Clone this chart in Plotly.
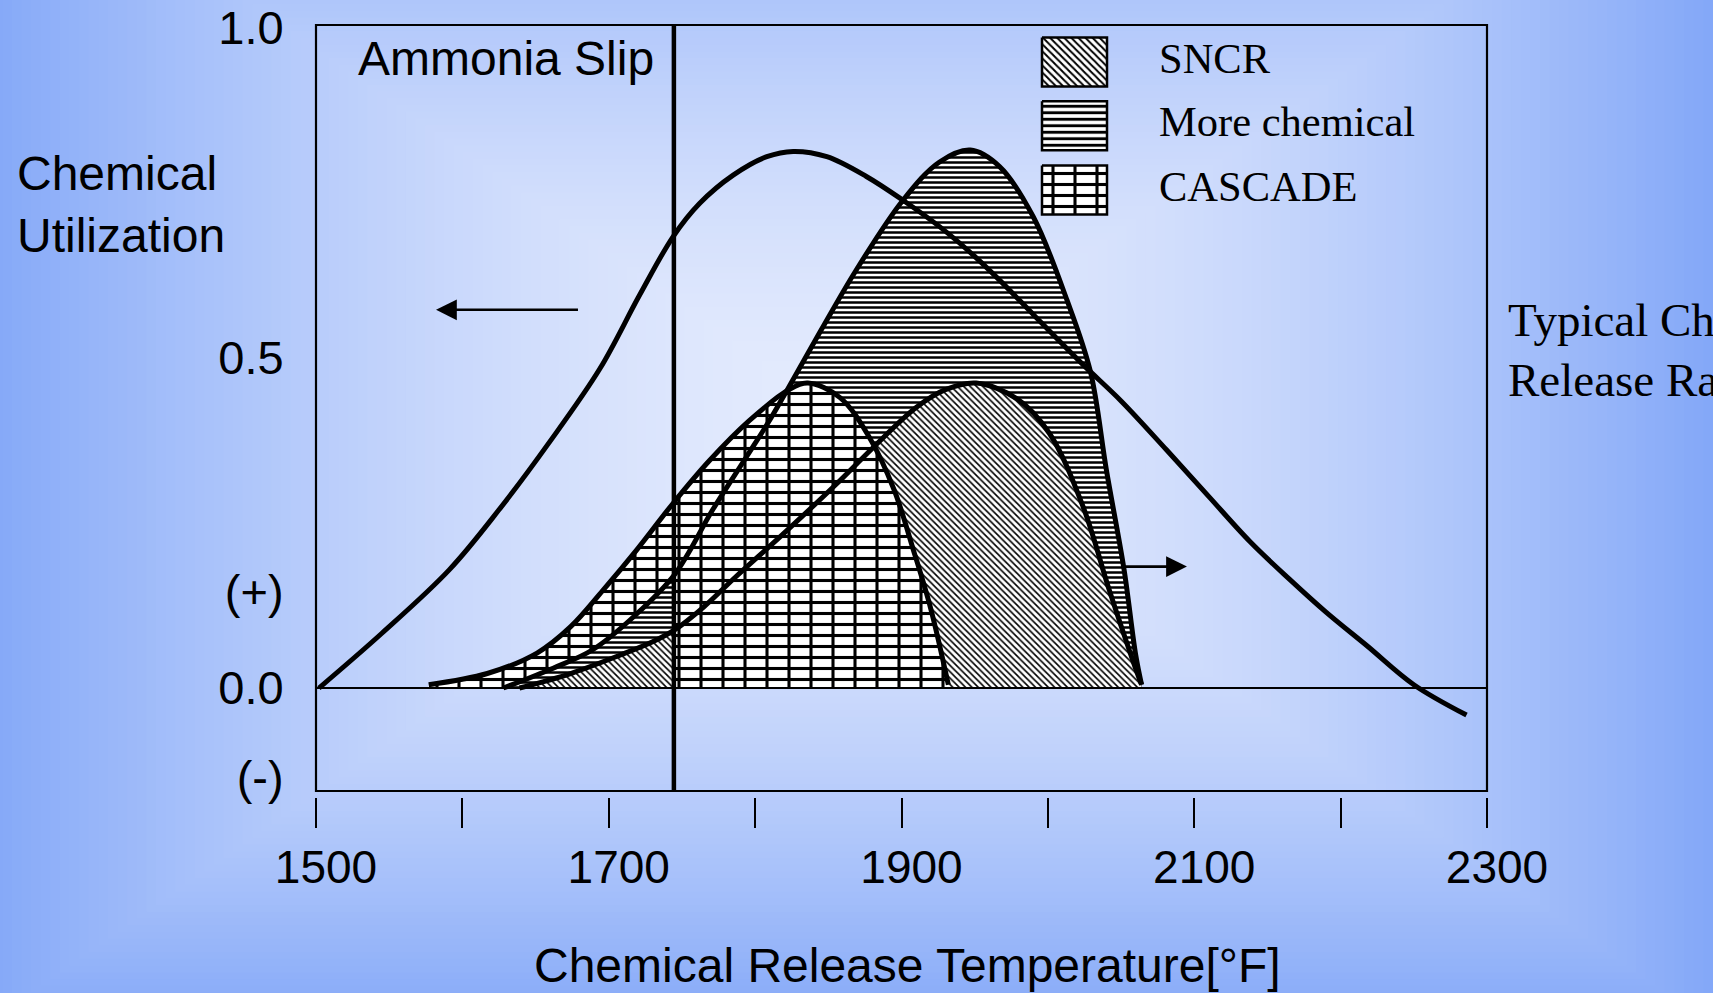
import plotly.graph_objects as go

# ---------------- data ----------------
T_MIN, T_MAX = 1500, 2300
U_MIN, U_MAX = -0.156, 1.0045
AMMONIA_SLIP_T = 1744.5

x_tick_vals = [1500, 1600, 1700, 1800, 1900, 2000, 2100, 2200, 2300]
x_tick_text = ["1500", "", "1700", "", "1900", "", "2100", "", "2300"]
y_tick_vals = [1.0, 0.5, 0.146, 0.0, -0.135]
y_tick_text = ["1.0", "0.5", "(+)", "0.0", "(-)"]

util_T = [1502, 1545, 1591, 1625, 1659, 1694, 1721, 1744, 1762, 1785, 1808, 1826, 1849,
          1876, 1901, 1926, 1949, 1967, 1990, 2024, 2050, 2081, 2110, 2138, 2165, 2190, 2218, 2250, 2286]
util_U = [0.000, 0.083, 0.179, 0.270, 0.371, 0.484, 0.595, 0.684, 0.734, 0.777, 0.805, 0.813, 0.805,
          0.775, 0.739, 0.699, 0.656, 0.618, 0.566, 0.490, 0.435, 0.361, 0.290, 0.222, 0.165, 0.115, 0.064, 0.005, -0.041]

cascade_T = [1577, 1617, 1651, 1674, 1696, 1719, 1744, 1769, 1796, 1823, 1836, 1858, 1878, 1895, 1908, 1920, 1932]
cascade_U = [0.005, 0.022, 0.053, 0.093, 0.148, 0.209, 0.280, 0.345, 0.405, 0.452, 0.462, 0.440, 0.380, 0.300, 0.210, 0.120, 0.005]

morechem_T = [1628, 1662, 1689, 1717, 1745, 1771, 1794, 1810, 1822, 1845, 1869, 1901, 1926, 1947, 1967,
              1990, 2013, 2029, 2040, 2052, 2060, 2064]
morechem_U = [0.000, 0.030, 0.058, 0.108, 0.172, 0.270, 0.350, 0.406, 0.452, 0.542, 0.633, 0.739, 0.797, 0.815, 0.790,
              0.714, 0.588, 0.480, 0.330, 0.180, 0.050, 0.005]

sncr_T = [1639, 1674, 1708, 1730, 1745, 1765, 1787, 1817, 1855, 1880, 1910, 1930, 1951, 1979,
          2001, 2024, 2042, 2058, 2064]
sncr_U = [0.000, 0.022, 0.050, 0.070, 0.088, 0.123, 0.169, 0.229, 0.308, 0.363, 0.425, 0.452, 0.462, 0.438,
          0.386, 0.275, 0.148, 0.042, 0.005]

legend_labels = ["SNCR", "More chemical", "CASCADE"]
left_arrow_T = (1680, 1582)   # tail, tip
left_arrow_U = 0.573
right_arrow_T = (2052, 2095)
right_arrow_U = 0.184

# ---------------- layout constants (pixels) ----------------
FIG_W, FIG_H = 1733, 993
M_L, M_R, M_T, M_B = 316, 20, 25, 166
PW = FIG_W - M_L - M_R
PH = FIG_H - M_T - M_B
PLOT_RIGHT_PX = 1487
BOX_BOTTOM_PX = 791
TICK_TOP_PX = 797
BG_RIGHT_PX = 1713


def pxx(px):
    return (px - M_L) / PW


def pxy(py):
    return (FIG_H - M_B - py) / PH


DX = pxx(PLOT_RIGHT_PX)
DY0 = pxy(BOX_BOTTOM_PX)
X_POS = pxy(TICK_TOP_PX)
DX_SPLIT = DX * (AMMONIA_SLIP_T - T_MIN) / (T_MAX - T_MIN)

SANS = "Liberation Sans, Arial, sans-serif"
SERIF = "Liberation Serif, Times New Roman, serif"
LW = 5
SMOOTH = 1.0

pat_sncr = dict(shape="\\", fgcolor="black", bgcolor="white", size=4.5, solidity=0.36)
pat_more = dict(shape="-", fgcolor="black", bgcolor="white", size=5, solidity=0.5)
pat_brick_h = dict(shape="-", fgcolor="black", bgcolor="white", size=11, solidity=0.28)
pat_brick_v = dict(shape="|", fgcolor="black", bgcolor="rgba(0,0,0,0)", size=22, solidity=0.14)

fig = go.Figure()


def fill_trace(T, U, pattern, xa, ya):
    return go.Scatter(x=T, y=U, mode="none", fill="tozeroy", fillcolor="rgba(0,0,0,0)",
                      fillpattern=pattern, line=dict(shape="spline", smoothing=SMOOTH),
                      xaxis=xa, yaxis=ya, showlegend=False, hoverinfo="skip")


def brick_traces(T, U, xa, ya):
    return [fill_trace(T, U, pat_brick_h, xa, ya), fill_trace(T, U, pat_brick_v, xa, ya)]


# right of ammonia slip: more chemical < SNCR < CASCADE
fig.add_trace(fill_trace(morechem_T, morechem_U, pat_more, "x", "y"))
fig.add_trace(fill_trace(sncr_T, sncr_U, pat_sncr, "x", "y"))
for tr in brick_traces(cascade_T, cascade_U, "x", "y"):
    fig.add_trace(tr)

# left of ammonia slip (clipped subplot): CASCADE < more chemical < SNCR
for tr in brick_traces(cascade_T, cascade_U, "x2", "y2"):
    fig.add_trace(tr)
fig.add_trace(fill_trace(morechem_T, morechem_U, pat_more, "x2", "y2"))
fig.add_trace(fill_trace(sncr_T, sncr_U, pat_sncr, "x2", "y2"))

# outlines
for T, U in [(cascade_T, cascade_U), (morechem_T, morechem_U), (sncr_T, sncr_U), (util_T, util_U)]:
    fig.add_trace(go.Scatter(x=T, y=U, mode="lines",
                             line=dict(color="black", width=LW, shape="spline", smoothing=SMOOTH),
                             xaxis="x3", yaxis="y3", showlegend=False, hoverinfo="skip"))

# custom legend swatches (pixel space subplot)
LEG_X0, LEG_X1 = 1042, 1107
LEG_CY = [62, 125.7, 190]
LEG_H = 49
LEG_TEXT_X = 1157
LEG_TEXT_DY = -4
leg_patterns = [[dict(pat_sncr, size=5, solidity=0.4)], [dict(pat_more, size=6.5, solidity=0.45)],
                [pat_brick_h, pat_brick_v]]
for cy, pats in zip(LEG_CY, leg_patterns):
    xs = [LEG_X0, LEG_X1, LEG_X1, LEG_X0, LEG_X0]
    ys = [cy - LEG_H / 2, cy - LEG_H / 2, cy + LEG_H / 2, cy + LEG_H / 2, cy - LEG_H / 2]
    for k, p in enumerate(pats):
        last = k == len(pats) - 1
        fig.add_trace(go.Scatter(x=xs, y=ys, mode="lines" if last else "none", fill="toself",
                                 fillcolor="rgba(0,0,0,0)", fillpattern=p,
                                 line=dict(color="black", width=2.5),
                                 xaxis="x4", yaxis="y4", showlegend=False, hoverinfo="skip"))

# right-hand label, clipped at the picture edge
TXT_X0_PX, TXT_Y0_PX, TXT_Y1_PX = 1505, 280, 420
fig.add_trace(go.Scatter(x=[1508, 1508], y=[324, 384], mode="text",
                         text=["Typical Chemical", "Release Rate"], textposition="middle right",
                         textfont=dict(family=SERIF, size=47, color="black"), cliponaxis=True,
                         xaxis="x5", yaxis="y5", showlegend=False, hoverinfo="skip"))

# ---------------- background gradient ----------------
shapes = []
cx, cy, GW, GH = 848, 421, 865, 605
C0 = (228, 235, 253)
C1 = (132, 168, 248)
N = 90
for i in range(N, 0, -1):
    t = i / N
    f = t ** 1.65
    col = "rgb(%d,%d,%d)" % tuple(round(a + (b - a) * f) for a, b in zip(C0, C1))
    x0 = max(0, cx - t * GW); x1 = min(BG_RIGHT_PX, cx + t * GW)
    y0 = max(0, cy - t * GH); y1 = min(FIG_H, cy + t * GH)
    shapes.append(dict(type="rect", xref="paper", yref="paper", x0=pxx(x0), x1=pxx(x1),
                       y0=pxy(y1), y1=pxy(y0), fillcolor=col, line=dict(width=0), layer="below"))

# box, zero line, ammonia slip line
shapes.append(dict(type="rect", xref="x domain", yref="y domain", x0=0, x1=1, y0=0, y1=1,
                   line=dict(color="black", width=2.2), fillcolor="rgba(0,0,0,0)", layer="above"))
shapes.append(dict(type="line", xref="x domain", yref="y", x0=0, x1=1, y0=0, y1=0,
                   line=dict(color="black", width=2), layer="above"))
shapes.append(dict(type="line", xref="x", yref="y domain", x0=AMMONIA_SLIP_T, x1=AMMONIA_SLIP_T, y0=0, y1=1,
                   line=dict(color="black", width=4.5), layer="above"))

annotations = [
    dict(text="Ammonia Slip", xref="paper", yref="paper", x=pxx(356), y=pxy(58), xanchor="left",
         yanchor="middle", showarrow=False, font=dict(family=SANS, size=48, color="black")),
    dict(text="Chemical<br>Utilization", xref="paper", yref="paper", x=pxx(15), y=pxy(204), xanchor="left",
         yanchor="middle", align="left", showarrow=False, font=dict(family=SANS, size=48, color="black")),
    dict(text="Chemical Release Temperature[°F]", xref="paper", yref="paper", x=pxx(907), y=pxy(965),
         xanchor="center", yanchor="middle", showarrow=False, font=dict(family=SANS, size=48, color="black")),
    dict(text="", x=left_arrow_T[1], y=left_arrow_U, ax=left_arrow_T[0], ay=left_arrow_U, xref="x", yref="y",
         axref="x", ayref="y", showarrow=True, arrowhead=2, arrowsize=1.6, arrowwidth=2.6, arrowcolor="black"),
    dict(text="", x=right_arrow_T[1], y=right_arrow_U, ax=right_arrow_T[0], ay=right_arrow_U, xref="x", yref="y",
         axref="x", ayref="y", showarrow=True, arrowhead=2, arrowsize=1.6, arrowwidth=2.6, arrowcolor="black"),
]
for lab, cyl in zip(legend_labels, LEG_CY):
    annotations.append(dict(text=lab, xref="paper", yref="paper", x=pxx(LEG_TEXT_X), y=pxy(cyl + LEG_TEXT_DY),
                            xanchor="left", yanchor="middle", showarrow=False,
                            font=dict(family=SERIF, size=42.5, color="black")))

hidden = dict(visible=False, showgrid=False, zeroline=False, fixedrange=True, automargin=False)
fig.update_layout(
    template="none",
    width=FIG_W, height=FIG_H, autosize=False,
    margin=dict(l=M_L, r=M_R, t=M_T, b=M_B, pad=0, autoexpand=False),
    paper_bgcolor="white", plot_bgcolor="rgba(0,0,0,0)",
    showlegend=False,
    xaxis=dict(domain=[0, DX], range=[T_MIN, T_MAX], anchor="free", position=X_POS, automargin=False,
               showline=False, showgrid=False, zeroline=False, ticks="outside", ticklen=30, tickwidth=2,
               tickcolor="black", tickvals=x_tick_vals, ticktext=x_tick_text, ticklabelshift=10,
               tickfont=dict(family=SANS, size=46, color="black")),
    yaxis=dict(domain=[DY0, 1], range=[U_MIN, U_MAX], anchor="x", showline=False, showgrid=False, automargin=False,
               zeroline=False, ticks="outside", ticklen=22, tickcolor="rgba(0,0,0,0)",
               tickvals=y_tick_vals, ticktext=y_tick_text, tickfont=dict(family=SANS, size=47, color="black")),
    xaxis2=dict(domain=[0, DX_SPLIT], range=[T_MIN, AMMONIA_SLIP_T], anchor="y2", **hidden),
    yaxis2=dict(domain=[DY0, 1], range=[U_MIN, U_MAX], anchor="x2", **hidden),
    xaxis3=dict(domain=[0, DX], range=[T_MIN, T_MAX], anchor="y3", **hidden),
    yaxis3=dict(domain=[DY0, 1], range=[U_MIN, U_MAX], anchor="x3", **hidden),
    xaxis4=dict(domain=[0, DX], range=[M_L, PLOT_RIGHT_PX], anchor="y4", **hidden),
    yaxis4=dict(domain=[DY0, 1], range=[BOX_BOTTOM_PX, M_T], anchor="x4", **hidden),
    xaxis5=dict(domain=[pxx(TXT_X0_PX), 1], range=[TXT_X0_PX, BG_RIGHT_PX], anchor="y5", **hidden),
    yaxis5=dict(domain=[pxy(TXT_Y1_PX), pxy(TXT_Y0_PX)], range=[TXT_Y1_PX, TXT_Y0_PX], anchor="x5", **hidden),
    shapes=shapes,
    annotations=annotations,
)

fig.write_html("out.html", config={"responsive": False, "displayModeBar": False},
               post_script="document.body.style.margin='0px';")
